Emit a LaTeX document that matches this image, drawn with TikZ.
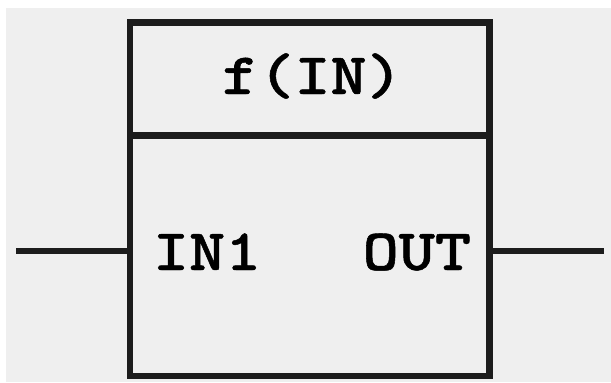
\documentclass[tikz,border=0pt]{standalone}
\usepackage{fontspec}
\newfontfamily\blockfont{lmmonolt10-bold.otf}[FakeBold=0.8]
\definecolor{panelgray}{RGB}{239,239,239}
\definecolor{inkline}{RGB}{28,28,28}
\tikzset{
  blockbox/.style={draw=inkline, line width=6.6bp, inner sep=0pt, outer sep=0pt,
    minimum width=359.7bp, minimum height=353.7bp},
  wire/.style={draw=inkline, line width=6bp},
  pinlabel/.style={inner sep=0pt, outer sep=0pt, text=black,
    font=\blockfont\fontsize{59}{59}\selectfont, xscale=1.17, transform shape}
}
\begin{document}
\begin{tikzpicture}[x=1bp, y=-1bp]
  \useasboundingbox (0,0) rectangle (611,382);
  \fill[white] (0,0) rectangle (611,382);
  \fill[panelgray] (6,7.5) rectangle (611,382);

  % function block
  \node[blockbox] (fb) at (309.85,199.15) {};
  \coordinate (divl) at (130,135.5);
  \coordinate (divr) at (489.7,135.5);
  \draw[inkline, line width=6.6bp] (divl) -- (divr);

  % labels
  \node[pinlabel, anchor=base] (title) at (312.5,94) {f(IN)};
  \node[pinlabel, anchor=base west] (inlbl) at (153,270) {IN1};
  \node[pinlabel, anchor=base east] (outlbl) at (471,270) {OUT};

  % wires
  \coordinate (inend) at (16,251);
  \coordinate (outend) at (604,251);
  \draw[wire] (inend) -- (inend -| fb.west);
  \draw[wire] (outend -| fb.east) -- (outend);
\end{tikzpicture}
\end{document}
